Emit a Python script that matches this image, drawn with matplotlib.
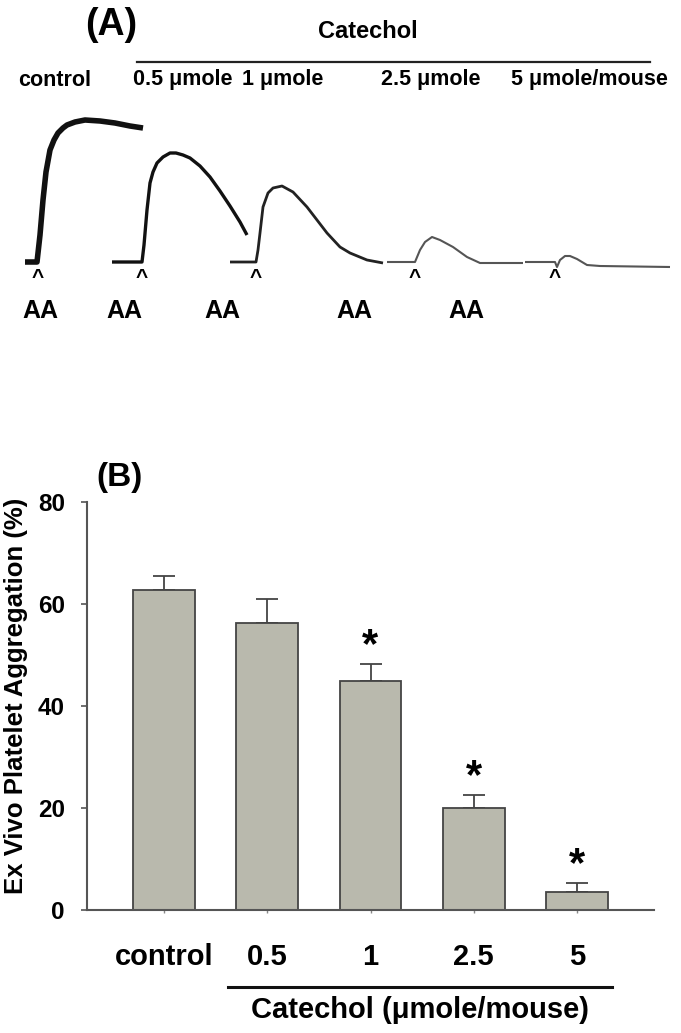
import matplotlib

matplotlib.use("Agg")
import matplotlib.pyplot as plt
import numpy as np

plt.rcParams["font.family"] = ["Liberation Sans", "DejaVu Sans"]
plt.rcParams["font.weight"] = "bold"

W, H = 681, 1033

# ---- panel A: aggregometer traces (time, aggregation above baseline)
ctrl_t = [25, 37, 40, 43, 46, 50, 54, 58, 63, 67, 75, 85, 100, 115, 130, 143]
ctrl_y = [0, 0, 27, 62, 90, 112, 122, 129, 134, 137, 140, 142, 141, 139, 136, 134]
d05_t = [112, 142, 144, 147, 150, 153, 157, 163, 170, 176, 183, 190, 200, 210, 220, 230, 240, 247]
d05_y = [0, 0, 17, 52, 79, 90, 99, 105, 109, 109, 107, 104, 96, 85, 71, 56, 40, 27]
d1_t = [230, 256, 258, 260, 263, 268, 273, 282, 293, 307, 317, 327, 340, 350, 367, 383]
d1_y = [0, 0, 12, 29, 55, 69, 74, 76, 70, 55, 42, 29, 15, 9, 2, -1]
d25_t = [387, 415, 420, 425, 432, 440, 453, 467, 480, 523]
d25_y = [0, 0, 12, 20, 25, 22, 15, 5, -1, -1]
d5_t = [525, 555, 557, 560, 565, 570, 577, 587, 600, 670]
d5_y = [0, 0, -5, 2, 6, 6, 3, -3, -4, -5]
traces = [(ctrl_t, ctrl_y, "#111111", 4.0), (d05_t, d05_y, "#111111", 2.4),
          (d1_t, d1_y, "#222222", 2.0), (d25_t, d25_y, "#555555", 1.5),
          (d5_t, d5_y, "#555555", 1.5)]
dose_labels = ["control", "0.5 \u03bcmole", "1 \u03bcmole", "2.5 \u03bcmole", "5 \u03bcmole/mouse"]
dose_label_x = [55, 183, 283, 431, 589]
aa_x = [40, 124, 222, 354, 466]
caret_x = [38, 142, 256, 415, 555]

# ---- panel B: ex vivo platelet aggregation
groups = ["control", "0.5", "1", "2.5", "5"]
means = [62.7, 56.3, 44.9, 20.0, 3.5]
sems = [2.8, 4.7, 3.3, 2.5, 1.8]
significant = [False, False, True, True, True]

fig = plt.figure(figsize=(W / 100, H / 100), dpi=100)

# panel A axes: covers the top 340 px, y=0 at the trace baseline
axa = fig.add_axes([0, 1 - 340 / H, 1, 340 / H])
axa.set_xlim(0, W)
axa.set_ylim(-78, 262)
axa.axis("off")
for t, y, c, lw in traces:
    axa.plot(t, y, color=c, lw=lw, solid_capstyle="butt")
axa.text(111, 237, "(A)", fontsize=27, ha="center", va="center")
axa.text(368, 231, "Catechol", fontsize=17, ha="center", va="center")
axa.plot([137, 650], [200, 200], color="#222222", lw=1.6)
for x, s in zip(dose_label_x, dose_labels):
    axa.text(x, 182, s, fontsize=15.5, ha="center", va="center")
for x in caret_x:
    axa.text(x, -16, "^", fontsize=15, ha="center", va="center")
for x in aa_x:
    axa.text(x, -49, "AA", fontsize=18, ha="center", va="center")

# panel B
ax = fig.add_axes([87 / W, 1 - 910 / H, (654 - 87) / W, (910 - 502) / H])
xs = np.arange(len(groups))
ax.bar(xs, means, width=0.6, color="#b9b9ad", edgecolor="#444444", linewidth=1.3, zorder=2)
ax.errorbar(xs, means, yerr=[np.zeros(len(sems)), sems], fmt="none", ecolor="#444444",
            elinewidth=1.3, capsize=8, capthick=1.3, zorder=1)
for x, m, e, sig in zip(xs, means, sems, significant):
    if sig:
        ax.text(x, m + e + 3.6, "*", fontsize=30, ha="center", va="center")
ax.set_xlim(-0.75, 4.75)
ax.set_ylim(0, 80)
ax.set_yticks([0, 20, 40, 60, 80])
ax.set_xticks(xs)
ax.set_xticklabels(groups, fontsize=21)
ax.tick_params(axis="y", labelsize=17.5, length=4, width=1.2, color="#555555", pad=12)
ax.tick_params(axis="x", length=2, width=1, color="#888888", pad=22)
for side in ["top", "right"]:
    ax.spines[side].set_visible(False)
for side in ["left", "bottom"]:
    ax.spines[side].set_color("#555555")
    ax.spines[side].set_linewidth(1.5)

# group bracket under the catechol doses
ax.plot([0.62, 4.34], [-0.189, -0.189], color="#111111", lw=2.2,
        transform=ax.get_xaxis_transform(), clip_on=False)
ax.text(2.48, -0.244, "Catechol (\u03bcmole/mouse)", fontsize=21, ha="center", va="center",
        transform=ax.get_xaxis_transform())

fig.text(119 / W, 1 - 477 / H, "(B)", fontsize=24, ha="center", va="center")
fig.text(16 / W, 1 - 696 / H, "Ex Vivo Platelet Aggregation (%)", fontsize=18.5,
         rotation=90, ha="center", va="center")

fig.savefig("out.png", dpi=100)
